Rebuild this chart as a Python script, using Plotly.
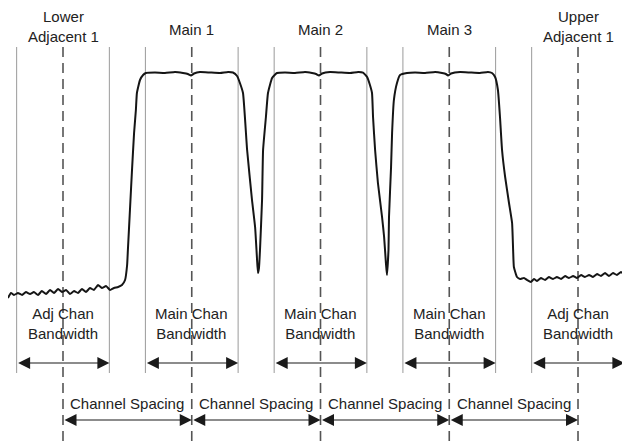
import plotly.graph_objects as go

# channel layout (MHz offset from Main 2)
channel_names = ["Lower<br>Adjacent 1", "Main 1", "Main 2", "Main 3", "Upper<br>Adjacent 1"]
channel_centers = [-10, -5, 0, 5, 10]
bw_labels = ["Adj Chan<br>Bandwidth", "Main Chan<br>Bandwidth", "Main Chan<br>Bandwidth",
             "Main Chan<br>Bandwidth", "Adj Chan<br>Bandwidth"]
channel_bw = 3.6
spacing_label = "Channel Spacing"

# spectrum trace
freq = [
    -12.14, -12.02, -11.90, -11.75, -11.59, -11.44, -11.28, -11.13, -10.97, -10.82,
    -10.66, -10.50, -10.35, -10.19, -10.04, -9.88, -9.73, -9.57, -9.42, -9.26,
    -9.11, -8.95, -8.80, -8.64, -8.49, -8.33, -8.17, -8.02, -7.86, -7.71,
    -7.59, -7.51, -7.48, -7.40, -7.32, -7.24, -7.17, -7.13, -7.01, -6.89,
    -6.78, -6.43, -6.04, -5.65, -5.34, -5.15, -5.03, -4.91, -4.68, -4.29,
    -3.90, -3.59, -3.40, -3.24, -3.13, -3.01, -2.85, -2.66, -2.54, -2.47,
    -2.43, -2.39, -2.35, -2.27, -2.23, -2.12, -2.04, -1.88, -1.69,
    -1.38, -0.99, -0.60, -0.33, -0.17, -0.06, 0.06, 0.37, 0.76, 1.15,
    1.46, 1.65, 1.81, 1.92, 2.00, 2.04, 2.12, 2.23, 2.39, 2.47,
    2.54, 2.58, 2.64, 2.66, 2.74, 2.78, 2.85, 2.97, 3.09, 3.36,
    3.67, 4.06, 4.45, 4.72, 4.87, 4.95, 5.07, 5.42, 5.81, 6.19,
    6.50, 6.66, 6.78, 6.89, 6.97, 7.05, 7.17, 7.32, 7.44, 7.48,
    7.51, 7.63, 7.75, 7.90, 8.02, 8.17, 8.29, 8.41, 8.56, 8.72,
    8.87, 9.03, 9.18, 9.34, 9.50, 9.65, 9.81, 9.96, 10.12, 10.27,
    10.43, 10.58, 10.74, 10.89, 11.05, 11.20, 11.36, 11.51, 11.67, 11.83,
    11.98,
]
level = [
    -74.5, -73.25, -73.75, -73.25, -73.75, -73.0, -73.5, -73.0, -73.75, -72.75,
    -73.5, -72.5, -73.25, -72.25, -73.0, -72.5, -73.5, -72.75, -73.25, -72.25,
    -73.0, -72.0, -72.5, -71.25, -72.0, -71.5, -72.5, -72.0, -71.75, -71.25,
    -70.0, -66.25, -62.5, -52.5, -42.5, -33.25, -27.5, -23.25, -20.0, -18.75,
    -18.25, -18.13, -18.25, -18.0, -18.25, -18.5, -18.88, -18.38, -18.0, -18.13,
    -18.25, -18.0, -18.13, -19.0, -20.75, -23.25, -37.5, -50.0, -56.75, -64.25,
    -68.25, -67.0, -62.5, -50.0, -37.5, -29.25, -23.25, -19.5, -18.25,
    -18.13, -18.25, -18.0, -18.25, -18.5, -18.88, -18.38, -18.0, -18.13, -18.25,
    -18.0, -18.13, -19.25, -21.25, -23.25, -29.25, -37.5, -45.75, -54.25, -59.25,
    -65.75, -68.75, -62.5, -54.25, -41.75, -33.25, -25.0, -20.75, -18.75, -18.25,
    -18.13, -18.25, -18.0, -18.25, -18.5, -18.88, -18.38, -18.0, -18.13, -18.25,
    -18.0, -18.25, -19.25, -22.5, -29.25, -37.5, -44.25, -50.75, -55.75, -62.5,
    -66.75, -69.25, -69.75, -69.5, -70.0, -70.5, -69.75, -70.25, -69.5, -70.0,
    -69.25, -69.75, -69.25, -69.75, -69.0, -69.5, -69.0, -69.5, -68.75, -69.25,
    -68.75, -69.25, -68.5, -69.0, -68.25, -69.0, -68.25, -68.75, -68.0, -68.75,
    -68.0,
]

FONT = "Liberation Sans, Arial, Helvetica, sans-serif"
TXT = "#222222"
top_y, solid_bot, dash_bot = -11.75, -93.25, -111.5
bw_arrow_y, spacing_arrow_y = -90.75, -105.0

fig = go.Figure()

# channel bandwidth edges
edge_x, edge_y = [], []
for c in channel_centers:
    for e in (c - channel_bw / 2, c + channel_bw / 2):
        edge_x += [e, e, None]
        edge_y += [top_y, solid_bot, None]
fig.add_trace(go.Scatter(x=edge_x, y=edge_y, mode="lines",
                         line=dict(color="#9a9a9a", width=1), hoverinfo="skip"))

# channel centres
cx, cy = [], []
for c in channel_centers:
    cx += [c, c, None]
    cy += [top_y, dash_bot, None]
fig.add_trace(go.Scatter(x=cx, y=cy, mode="lines",
                         line=dict(color="#555555", width=1.6, dash="10px,6px"),
                         hoverinfo="skip"))

# spectrum
fig.add_trace(go.Scatter(x=freq, y=level, mode="lines",
                         line=dict(color="#151515", width=2, shape="spline", smoothing=0.4),
                         hoverinfo="skip", cliponaxis=False))

arrow = dict(showarrow=True, arrowhead=2, arrowside="end+start", arrowsize=2.0,
             arrowwidth=1.2, arrowcolor="#1a1a1a", axref="x", ayref="y",
             standoff=0, startstandoff=0, text="")

for name, c, bl in zip(channel_names, channel_centers, bw_labels):
    two = "<br>" in name
    fig.add_annotation(x=c, y=-6.5 if two else -7.25, text=name, showarrow=False,
                       borderpad=0, font=dict(family=FONT, size=15, color=TXT))
    fig.add_annotation(x=c, y=-80.9, text=bl, showarrow=False,
                       font=dict(family=FONT, size=15, color=TXT))
    fig.add_annotation(x=c + channel_bw / 2, y=bw_arrow_y,
                       ax=c - channel_bw / 2, ay=bw_arrow_y, **arrow)

for a, b in zip(channel_centers[:-1], channel_centers[1:]):
    fig.add_annotation(x=(a + b) / 2, y=-100.75, text=spacing_label, showarrow=False,
                       font=dict(family=FONT, size=15, color=TXT))
    fig.add_annotation(x=b, y=spacing_arrow_y, ax=a, ay=spacing_arrow_y, **arrow)

# the page body keeps an 8px margin, so the figure is 8px smaller each way
fig.update_layout(
    width=622, height=438,
    margin=dict(l=0, r=0, t=0, b=0),
    paper_bgcolor="white", plot_bgcolor="white",
    showlegend=False,
    xaxis=dict(range=[-12.136, 12.019], visible=False, fixedrange=True),
    yaxis=dict(range=[-111.5, -2.0], visible=False, fixedrange=True),
)

fig.write_html("out.html")
